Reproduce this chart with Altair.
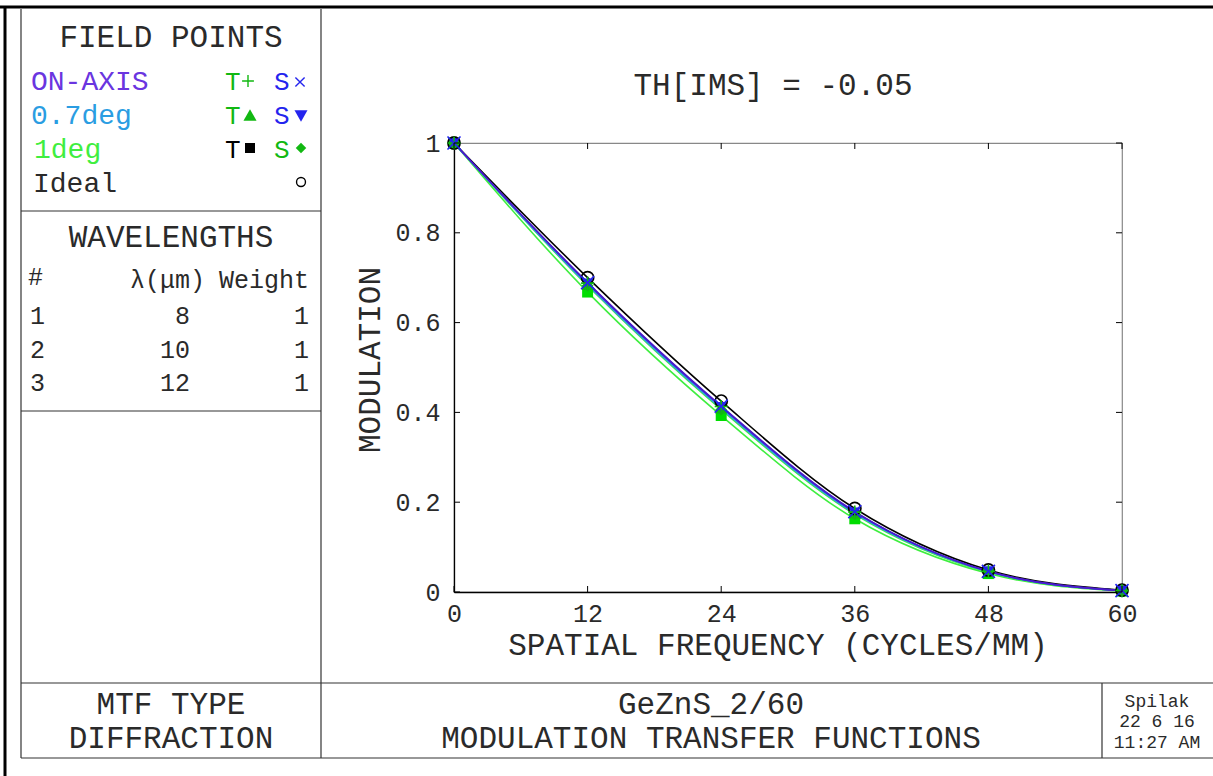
import altair as alt
import pandas as pd

# ---------------- data ----------------
freq = [0, 12, 24, 36, 48, 60]
on_axis_t = [1.0, 0.688, 0.413, 0.178, 0.046, 0.003]
on_axis_s = [1.0, 0.689, 0.414, 0.179, 0.046, 0.003]
deg07_t = [1.0, 0.684, 0.409, 0.175, 0.045, 0.003]
deg07_s = [1.0, 0.687, 0.412, 0.177, 0.046, 0.003]
deg1_t = [1.0, 0.668, 0.393, 0.163, 0.041, 0.002]
deg1_s = [1.0, 0.682, 0.406, 0.173, 0.044, 0.003]
ideal = [1.0, 0.700, 0.425, 0.186, 0.049, 0.004]

x_ticks = [0, 12, 24, 36, 48, 60]
y_ticks = [0, 0.2, 0.4, 0.6, 0.8, 1.0]

wl_num = ["1", "2", "3"]
wl_um = ["8", "10", "12"]
wl_weight = ["1", "1", "1"]

# ---------------- styling ----------------
FONT = "'Liberation Mono', 'DejaVu Sans Mono', monospace"
TXT = "#2a2a2a"
PURPLE = "#6a35e0"
PURPLE_LINE = "#4a1ccc"
LBLUE = "#2a9de2"
LGREEN = "#3fee3f"
MGREEN = "#12b812"
BLUE = "#2424ee"
SQGREEN = "#00dd00"
PLUS = "M-1,0L1,0M0,-1L0,1"
XMARK = "M-1,-1L1,1M-1,1L1,-1"

W, H = 668, 449
OX, OY = 454, 143

series = [
    # name, values, line colour, marker shape, marker colour, filled
    ("1deg T", deg1_t, LGREEN, "square", SQGREEN, True),
    ("1deg S", deg1_s, LGREEN, "diamond", MGREEN, True),
    ("0.7deg T", deg07_t, LBLUE, "triangle-up", MGREEN, True),
    ("0.7deg S", deg07_s, LBLUE, "triangle-down", BLUE, True),
    ("Ideal", ideal, "black", "circle", "black", False),
    ("ON-AXIS T", on_axis_t, PURPLE_LINE, PLUS, MGREEN, False),
    ("ON-AXIS S", on_axis_s, PURPLE_LINE, XMARK, BLUE, False),
]

rows = []
for name, vals, *_ in series:
    for f, v in zip(freq, vals):
        rows.append({"series": name, "freq": f, "mtf": v})
df = pd.DataFrame(rows)

xs = alt.Scale(domain=[0, 60], nice=False, zero=False)
ys = alt.Scale(domain=[0, 1], nice=False, zero=False)

x_axis = alt.Axis(values=x_ticks, ticks=False, grid=False, title=None,
                  labelFont=FONT, labelFontSize=25,
                  labelColor=TXT, labelPadding=9, domainColor="black",
                  domainWidth=1.3, labelFlush=False, labelOverlap=False)
y_axis = alt.Axis(values=y_ticks, ticks=False, grid=False, title=None,
                  format="~g", labelFont=FONT,
                  labelFontSize=25, labelColor=TXT, labelPadding=14,
                  domainColor="black", domainWidth=1.3, labelFlush=False,
                  labelOverlap=False)

X = lambda f: alt.X(f, scale=xs, axis=x_axis)
Y = lambda f: alt.Y(f, scale=ys, axis=y_axis)

layers = []

# ---- curves ----
for name, vals, lc, shape, mc, filled in series:
    base = alt.Chart(df).transform_filter(alt.datum.series == name)
    layers.append(base.mark_line(color=lc, strokeWidth=1.6,
                                 interpolate="monotone").encode(
        x=X("freq:Q"), y=Y("mtf:Q")))

for name, vals, lc, shape, mc, filled in series:
    base = alt.Chart(df).transform_filter(alt.datum.series == name)
    size = 140
    if shape == "square":
        size = 120
    if shape == "circle":
        size = 150
    if shape in (PLUS, XMARK):
        size = 170
    mk = base.mark_point(shape=shape, filled=filled, color=mc, size=size,
                         strokeWidth=1.6, opacity=1)
    layers.append(mk.encode(x=X("freq:Q"), y=Y("mtf:Q")))

# ---- inward ticks ----
xt = alt.Chart(pd.DataFrame({"v": x_ticks}))
yt = alt.Chart(pd.DataFrame({"v": y_ticks}))
layers.append(xt.mark_rule(color="black", strokeWidth=1).encode(
    x=X("v:Q"), y=alt.value(H), y2=alt.value(H - 6)))
layers.append(xt.mark_rule(color="black", strokeWidth=1).encode(
    x=X("v:Q"), y=alt.value(0), y2=alt.value(6)))
layers.append(yt.mark_rule(color="black", strokeWidth=1).encode(
    y=Y("v:Q"), x=alt.value(0), x2=alt.value(6)))
layers.append(yt.mark_rule(color="black", strokeWidth=1).encode(
    y=Y("v:Q"), x=alt.value(W - 6), x2=alt.value(W)))


def one():
    return alt.Data(values=[{"a": 0}])


def txt(s, x, y, size=31, color=TXT, align="center", angle=0):
    return alt.Chart(alt.Data(values=[{"t": s}])).mark_text(
        align=align, baseline="alphabetic", fontSize=size, font=FONT,
        color=color, angle=angle).encode(
        x=alt.value(x - OX), y=alt.value(y - OY), text="t:N")


def rule(x1, y1, x2, y2, color="#333", width=1.2):
    return alt.Chart(one()).mark_rule(color=color, strokeWidth=width).encode(
        x=alt.value(x1 - OX), x2=alt.value(x2 - OX),
        y=alt.value(y1 - OY), y2=alt.value(y2 - OY))


def sym(shape, x, y, color, filled=True, size=70):
    return alt.Chart(one()).mark_point(shape=shape, filled=filled, color=color,
                                       size=size, strokeWidth=1.4, opacity=1).encode(
        x=alt.value(x - OX), y=alt.value(y - OY))


# ---- frame ----
layers += [
    rule(0, 7, 1213, 7, "black", 3),
    rule(5, 7, 5, 776, "black", 3),
    rule(21, 9, 21, 758),
    rule(321, 9, 321, 758),
    rule(21, 211, 321, 211),
    rule(21, 411, 321, 411),
    rule(21, 683, 1213, 683),
    rule(21, 758, 1213, 758),
    rule(1102, 683, 1102, 758),
]

# ---- field points legend ----
layers += [
    txt("FIELD POINTS", 171, 47, 31),
    txt("ON-AXIS", 31, 90, 28, PURPLE, "left"),
    txt("T", 225, 90, 26, MGREEN, "left"),
    sym(PLUS, 248, 81, MGREEN, False, 140),
    txt("S", 274, 90, 26, BLUE, "left"),
    sym(XMARK, 300, 82, BLUE, False, 85),
    txt("0.7deg", 31, 124, 28, LBLUE, "left"),
    txt("T", 225, 124, 26, MGREEN, "left"),
    sym("triangle-up", 250, 115, MGREEN, True, 170),
    txt("S", 274, 124, 26, BLUE, "left"),
    sym("triangle-down", 301, 116, BLUE, True, 170),
    txt("1deg", 34, 158, 28, LGREEN, "left"),
    txt("T", 225, 158, 26, "black", "left"),
    sym("square", 250, 148, "black", True, 100),
    txt("S", 274, 158, 26, MGREEN, "left"),
    sym("diamond", 301, 148, MGREEN, True, 110),
    txt("Ideal", 33, 192, 28, TXT, "left"),
    sym("circle", 301, 182, "black", False, 80),
]

# ---- wavelengths table ----
layers += [
    txt("WAVELENGTHS", 171, 247, 31),
    txt("#", 28, 285, 25, TXT, "left"),
    txt("λ(μm)", 205, 288, 25, TXT, "right"),
    txt("Weight", 309, 288, 25, TXT, "right"),
]
for i, (n, um, wt) in enumerate(zip(wl_num, wl_um, wl_weight)):
    yb = 324 + i * 33.5
    layers += [
        txt(n, 30, yb, 25, TXT, "left"),
        txt(um, 190, yb, 25, TXT, "right"),
        txt(wt, 309, yb, 25, TXT, "right"),
    ]

# ---- plot titles ----
layers += [
    txt("TH[IMS] = -0.05", 773, 95, 31),
    txt("MODULATION", 380, 360, 31, TXT, "center", 270),
    txt("SPATIAL FREQUENCY (CYCLES/MM)", 778, 655, 31),
]

# ---- title block ----
layers += [
    txt("MTF TYPE", 171, 714, 31),
    txt("DIFFRACTION", 171, 748, 31),
    txt("GeZnS_2/60", 711, 714, 31),
    txt("MODULATION TRANSFER FUNCTIONS", 711, 748, 31),
    txt("Spilak", 1157, 707, 18),
    txt("22 6 16", 1157, 727, 18),
    txt("11:27 AM", 1157, 748, 18),
]

chart = alt.layer(*layers).properties(
    width=W, height=H,
    padding={"left": OX, "top": OY, "right": 1213 - OX - W, "bottom": 776 - OY - H},
    autosize=alt.AutoSizeParams(type="none"),
    background="white",
).configure_view(stroke="#888", strokeWidth=1.2)

chart.save("out.html", embed_options={"renderer": "svg", "actions": False})
